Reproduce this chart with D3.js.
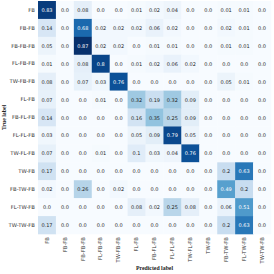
<!DOCTYPE html>
<html><head><meta charset="utf-8">
<script src="https://cdn.jsdelivr.net/npm/d3@7"></script>
<style>body{margin:0;background:#fff}svg{display:block}</style>
</head><body>
<svg id="c" width="274" height="274"></svg>
<script>
const labels = ["FB","FB-FB","FB-FB-FB","FL-FB-FB","TW-FB-FB","FL-FB","FB-FL-FB","FL-FL-FB","TW-FL-FB","TW-FB","FB-TW-FB","FL-TW-FB","TW-TW-FB"];
const row0  = [0.83,0.0,0.08,0.0,0.0,0.01,0.02,0.04,0.0,0.0,0.01,0.01,0.0];
const row1  = [0.14,0.0,0.68,0.02,0.02,0.02,0.06,0.02,0.0,0.0,0.02,0.01,0.0];
const row2  = [0.05,0.0,0.87,0.02,0.02,0.0,0.01,0.01,0.0,0.0,0.01,0.01,0.0];
const row3  = [0.01,0.0,0.08,0.8,0.0,0.01,0.02,0.06,0.02,0.0,0.0,0.0,0.0];
const row4  = [0.08,0.0,0.07,0.03,0.76,0.0,0.0,0.0,0.0,0.0,0.05,0.01,0.0];
const row5  = [0.07,0.0,0.0,0.01,0.0,0.32,0.19,0.32,0.09,0.0,0.0,0.0,0.0];
const row6  = [0.14,0.0,0.0,0.0,0.0,0.16,0.35,0.25,0.09,0.0,0.0,0.0,0.0];
const row7  = [0.03,0.0,0.0,0.0,0.0,0.05,0.09,0.79,0.05,0.0,0.0,0.0,0.0];
const row8  = [0.07,0.0,0.0,0.01,0.0,0.1,0.03,0.04,0.76,0.0,0.0,0.0,0.0];
const row9  = [0.17,0.0,0.0,0.0,0.0,0.0,0.0,0.0,0.0,0.0,0.2,0.63,0.0];
const row10 = [0.02,0.0,0.26,0.0,0.02,0.0,0.0,0.0,0.0,0.0,0.49,0.2,0.0];
const row11 = [0.0,0.0,0.0,0.0,0.0,0.08,0.02,0.25,0.08,0.0,0.06,0.51,0.0];
const row12 = [0.17,0.0,0.0,0.0,0.0,0.0,0.0,0.0,0.0,0.0,0.2,0.63,0.0];
const matrix = [row0,row1,row2,row3,row4,row5,row6,row7,row8,row9,row10,row11,row12];

(function(){
const svg = d3.select("#c");
const gl = 38, gt = 1, size = 233;
const x = d3.scaleBand().domain(labels).range([gl, gl+size]);
const y = d3.scaleBand().domain(labels).range([gt, gt+size]);
const vmax = d3.max(matrix.flat());
const color = d3.scaleSequential(d3.interpolateBlues).domain([0, vmax]);
const thresh = vmax/2;

const cells = [];
matrix.forEach((r,i)=>r.forEach((v,j)=>cells.push({t:labels[i],p:labels[j],v})));

svg.append("g").selectAll("rect").data(cells).join("rect")
  .attr("x",d=>x(d.p)).attr("y",d=>y(d.t))
  .attr("width",x.bandwidth()+0.3).attr("height",y.bandwidth()+0.3)
  .attr("fill",d=>color(d.v));

svg.append("g").selectAll("text").data(cells).join("text")
  .attr("x",d=>x(d.p)+x.bandwidth()/2).attr("y",d=>y(d.t)+y.bandwidth()/2)
  .attr("text-anchor","middle").attr("dominant-baseline","central")
  .attr("font-family","DejaVu Sans").attr("font-size",5)
  .attr("fill",d=>d.v>thresh?"#ffffff":"#262626")
  .text(d=>String(d.v===0?"0.0":d.v));

const yAxis = svg.append("g").attr("transform",`translate(${gl},0)`)
  .call(d3.axisLeft(y).tickSize(0).tickPadding(3));
yAxis.select(".domain").remove();
yAxis.selectAll("text").attr("font-family","DejaVu Sans").attr("font-size",5.3).attr("fill","#333");

const xAxis = svg.append("g").attr("transform",`translate(0,${gt+size})`)
  .call(d3.axisBottom(x).tickSize(0).tickPadding(3));
xAxis.select(".domain").remove();
xAxis.selectAll("text").attr("font-family","DejaVu Sans").attr("font-size",5.3).attr("fill","#333")
  .attr("transform","rotate(-90)").attr("text-anchor","end")
  .attr("dy","0.32em").attr("x",-3).attr("y",0);

svg.append("text").attr("x",gl+size/2).attr("y",270)
  .attr("text-anchor","middle").attr("font-family","Liberation Serif").attr("font-weight","bold")
  .attr("font-size",5.8).attr("fill","#222").text("Predicted label");
svg.append("text").attr("transform",`translate(6,${gt+size/2}) rotate(-90)`)
  .attr("text-anchor","middle").attr("font-family","Liberation Serif").attr("font-weight","bold")
  .attr("font-size",5.8).attr("fill","#222").text("True label");
})();
</script>
</body></html>
